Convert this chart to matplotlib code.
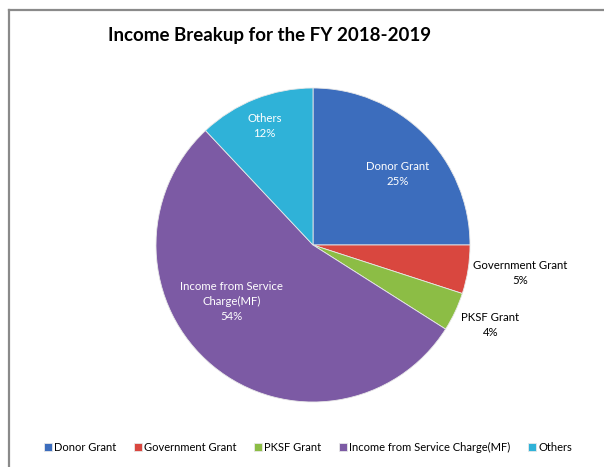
import matplotlib
matplotlib.use('Agg')
import matplotlib.pyplot as plt
from matplotlib.lines import Line2D

# chart data
categories = ['Donor Grant', 'Government Grant', 'PKSF Grant',
              'Income from Service Charge(MF)', 'Others']
shares = [25, 5, 4, 54, 12]
label_texts = ['Donor Grant\n25%', 'Government Grant\n5%', 'PKSF Grant\n4%',
               'Income from Service\nCharge(MF)\n54%', 'Others\n12%']
colors = ['#3c6dbd', '#d9473f', '#8cbd45', '#7c5aa4', '#2fb2d8']


def main():
    plt.rcParams['font.family'] = ['Lato', 'DejaVu Sans']

    W, H = 604, 467
    fig = plt.figure(figsize=(W / 100, H / 100), dpi=100)

    # pie centre / radius in pixels
    cx, cy, r = 313, 245, 157
    ax = fig.add_axes([0, 0, 1, 1])
    wedges, _ = ax.pie(shares, colors=colors, startangle=90, counterclock=False,
                       radius=1, wedgeprops=dict(edgecolor='#e8e8e8', linewidth=0.6))
    ax.set_xlim(-cx / r, (W - cx) / r)
    ax.set_ylim(-(H - cy) / r, cy / r)
    ax.set_aspect('equal')
    ax.axis('off')

    # data labels (positions relative to pie radius)
    label_pos = [(0.54, 0.45), (1.32, -0.18), (1.13, -0.51), (-0.52, -0.36), (-0.31, 0.76)]
    label_col = ['white', 'black', 'black', 'white', 'white']
    for txt, (x, y), c in zip(label_texts, label_pos, label_col):
        ax.text(x, y, txt, ha='center', va='center', fontsize=8.2, color=c, linespacing=1.45)

    # title
    fig.text(270 / W, 1 - 35 / H, 'Income Breakup for the FY 2018-2019',
             ha='center', va='center', fontsize=13.5, fontweight='bold')

    # legend
    fig.legend(wedges, categories, loc='center', ncol=5,
               bbox_to_anchor=(308 / W, 1 - 447 / H), frameon=False, fontsize=8,
               handlelength=0.7, handleheight=0.7, handletextpad=0.2, columnspacing=1.6)

    # chart border
    fig.add_artist(Line2D([9 / W, 1], [1 - 10 / H, 1 - 10 / H], color='#8a8a8a', lw=1.6))
    fig.add_artist(Line2D([9 / W, 9 / W], [0, 1 - 10 / H], color='#8a8a8a', lw=1.6))

    plt.savefig('out.png', dpi=100)


if __name__ == "__main__":
    main()
